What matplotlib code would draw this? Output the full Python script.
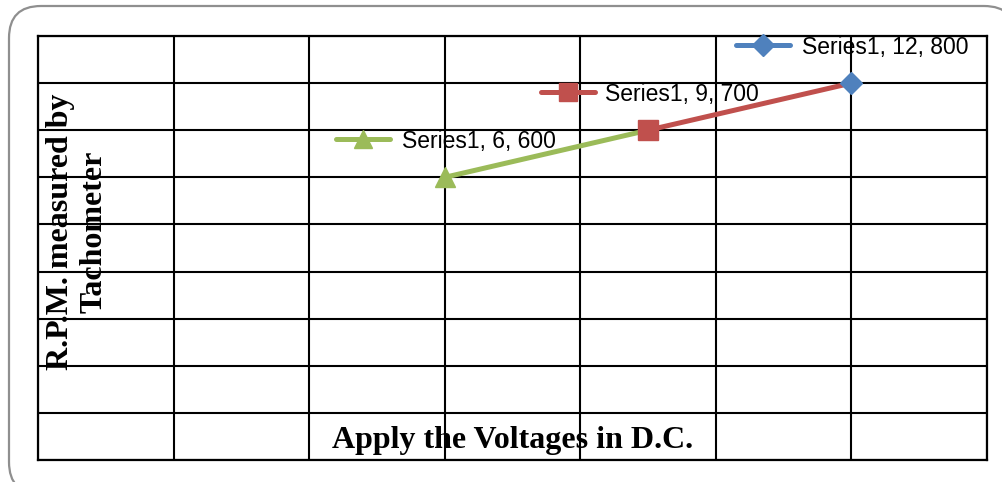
import matplotlib
matplotlib.use("Agg")
import matplotlib.pyplot as plt
from matplotlib.patches import FancyBboxPatch
from matplotlib.lines import Line2D
from matplotlib.transforms import offset_copy

# ---- data ----
voltages = [6, 9, 12]
rpm = [600, 700, 800]
series_name = "Series1"
point_colors = ["#9BBB59", "#C0504D", "#4F81BD"]
point_markers = ["^", "s", "D"]
x_title = "Apply the Voltages in D.C."
y_title = "R.P.M. measured by\nTachometer"
x_ticks = list(range(0, 15, 2))
y_ticks = list(range(0, 901, 100))

# label placement (pixel offsets from each point: icon centre x, text left x)
icon_dx = [-82, -80, -88]
text_dx = [-43, -43, -49]

W, H, DPI = 1003, 482, 100
fig = plt.figure(figsize=(W / DPI, H / DPI), dpi=DPI, facecolor="white")

# rounded outer frame (pixel coords via inches)
px = 1.0 / DPI
frame = FancyBboxPatch((9 * px, (H - 494) * px), (1016 - 9) * px, (494 - 6) * px,
                       boxstyle="round,pad=0,rounding_size=0.32",
                       transform=fig.dpi_scale_trans, facecolor="white",
                       edgecolor="#8f8f8f", linewidth=1.6, zorder=0)
fig.add_artist(frame)

ax = fig.add_axes([38 / W, 1 - 460 / H, (987 - 38) / W, (460 - 36) / H])
ax.set_xlim(x_ticks[0], x_ticks[-1])
ax.set_ylim(y_ticks[0], y_ticks[-1])
ax.set_xticks(x_ticks)
ax.set_yticks(y_ticks)
ax.tick_params(length=0, labelbottom=False, labelleft=False)
ax.grid(True, color="black", linewidth=1.5)
ax.set_axisbelow(True)
for s in ax.spines.values():
    s.set_color("black")
    s.set_linewidth(1.6)

# line segments coloured by starting point
for i in range(len(voltages) - 1):
    ax.plot(voltages[i:i + 2], rpm[i:i + 2], color=point_colors[i],
            linewidth=3.6, solid_capstyle="butt", zorder=3)
for i in range(len(voltages)):
    ms = 15 if point_markers[i] != "D" else 11.5
    ax.plot([voltages[i]], [rpm[i]], marker=point_markers[i], markersize=ms,
            color=point_colors[i], markeredgecolor=point_colors[i], zorder=4,
            linestyle="none")

# data labels with legend keys
for i in range(len(voltages)):
    tr_icon = offset_copy(ax.transData, fig=fig, x=icon_dx[i], y=38, units="dots")
    p = ax.transData.transform((voltages[i], rpm[i]))
    x0, x1 = p[0] + icon_dx[i] - 27, p[0] + icon_dx[i] + 27
    yy = p[1] + 38
    ln = Line2D([x0, x1], [yy, yy], transform=None, color=point_colors[i],
                linewidth=3.6, solid_capstyle="round", zorder=5)
    fig.add_artist(ln)
    ax.plot([voltages[i]], [rpm[i]], marker=point_markers[i],
            markersize=(13 if point_markers[i] != "D" else 11),
            color=point_colors[i], transform=tr_icon, zorder=5, clip_on=False)
    tr_t = offset_copy(ax.transData, fig=fig, x=text_dx[i], y=29, units="dots")
    ax.text(voltages[i], rpm[i], f"{series_name}, {voltages[i]}, {rpm[i]}",
            transform=tr_t, ha="left", va="baseline", fontsize=16.5,
            family="Liberation Sans", color="black", zorder=6, clip_on=False)

# axis titles (inside plot area)
fig.text(0.511, 1 - 448 / H, x_title, ha="center", va="baseline",
         family="Liberation Serif", fontweight="bold", fontsize=23, zorder=7)
fig.text(77 / W, 1 - 232 / H, y_title, ha="center", va="center", rotation=90,
         multialignment="center", family="Liberation Serif", fontweight="bold",
         fontsize=23, linespacing=1.2, zorder=7)

fig.savefig("out.png", dpi=DPI, facecolor="white")
